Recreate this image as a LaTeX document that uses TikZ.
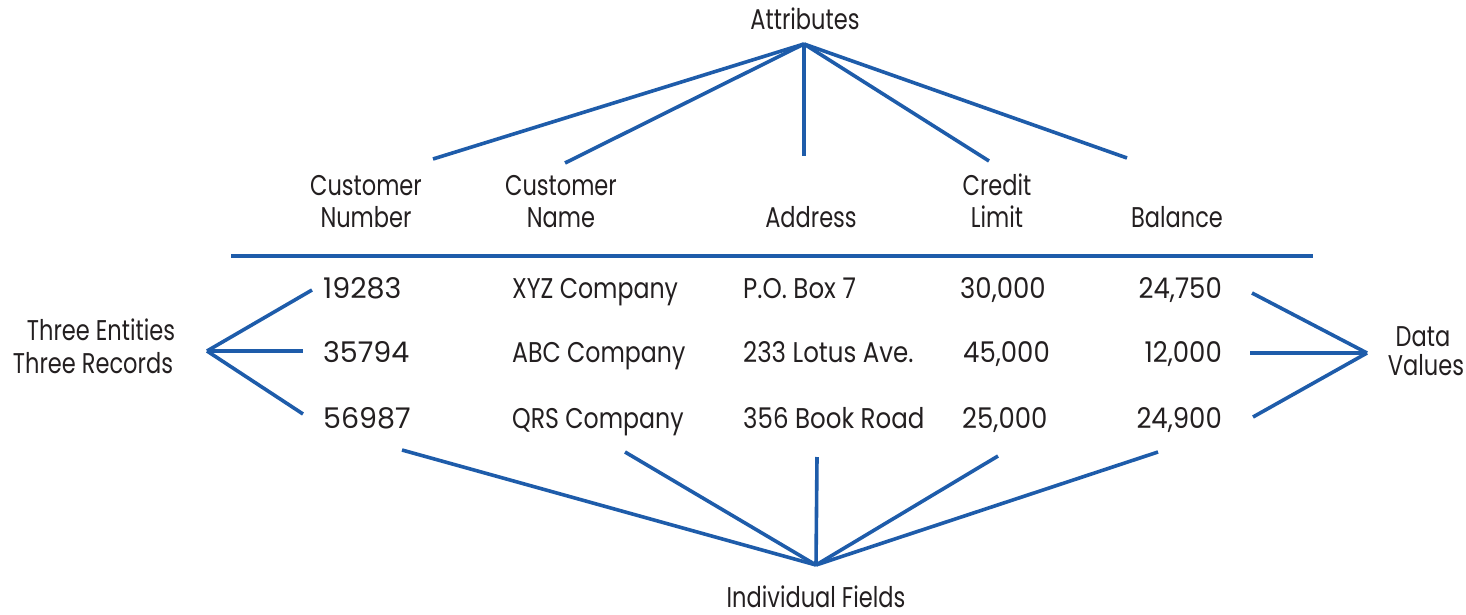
\documentclass[tikz,border=0pt]{standalone}
\usepackage{fontspec}
\setmainfont{Poppins}[FakeStretch=0.79]
\newfontfamily\fcomp{Poppins}[FakeStretch=0.83]
\newfontfamily\faddr{Poppins}[FakeStretch=0.86]
\newfontfamily\fnum{Poppins}[FakeStretch=1.0]
\newfontfamily\fval{Poppins}[FakeStretch=0.91]
\definecolor{lineblue}{RGB}{30,92,170}
\definecolor{txtgray}{RGB}{35,31,32}
\tikzset{
  lbl/.style={font=\fontsize{28.5}{33}\selectfont, text=txtgray, inner sep=0pt},
  cell/.style={lbl, anchor=base west},
  conn/.style={draw=lineblue, line width=3.6pt},
}
\begin{document}
\begin{tikzpicture}[x=1pt,y=-1pt]
\useasboundingbox[fill=white] (0,0) rectangle (1466,615);

% Title
\node[lbl, anchor=base] (attr) at (805,30) {Attributes};
\coordinate (ahub) at (804,44);
\coordinate (a1) at (433,159);
\coordinate (a2) at (565,163);
\coordinate (a3) at (804,156);
\coordinate (a4) at (989,161);
\coordinate (a5) at (1127,158);
\foreach \e in {a1,a2,a3,a4,a5} \draw[conn] (ahub) -- (\e);

% Header
\node[lbl, anchor=base] (cn1) at (366,195) {Customer};
\node[lbl, anchor=base] (cn2) at (366,227) {Number};
\node[lbl, anchor=base] (nm1) at (561,195) {Customer};
\node[lbl, anchor=base] (nm2) at (561,227) {Name};
\node[lbl, anchor=base] (addr) at (811,227) {Address};
\node[lbl, anchor=base] (cr1) at (997,195) {Credit};
\node[lbl, anchor=base] (cr2) at (997,227) {Limit};
\node[lbl, anchor=base] (bal) at (1177,227) {Balance};

\coordinate (ruleL) at (231,256);
\coordinate (ruleR) at (1313,256);
\draw[conn] (ruleL) -- (ruleR);

% Rows
\node[cell] (r1c1) at (323,298) {\fnum 19283};
\node[cell] (r2c1) at (323,362) {\fnum 35794};
\node[cell] (r3c1) at (323,428) {\fnum 56987};
\node[cell] (r1c2) at (512,298) {\fcomp XYZ Company};
\node[cell] (r2c2) at (512,362) {\fcomp ABC Company};
\node[cell] (r3c2) at (512,428) {\fcomp QRS Company};
\node[cell] (r1c3) at (743,298) {\faddr P.O. Box 7};
\node[cell] (r2c3) at (743,362) {\faddr 233 Lotus Ave.};
\node[cell] (r3c3) at (743,428) {\faddr 356 Book Road};
\node[cell] (r1c4) at (960,298) {\fval 30,000};
\node[cell] (r2c4) at (963,362) {\fval 45,000};
\node[cell] (r3c4) at (962,428) {\fval 25,000};
\node[lbl, anchor=base east] (r1c5) at (1222,298) {\fval 24,750};
\node[lbl, anchor=base east] (r2c5) at (1222,362) {\fval 12,000};
\node[lbl, anchor=base east] (r3c5) at (1222,428) {\fval 24,900};

% Left
\node[lbl, anchor=base] (ent) at (101,340) {Three Entities};
\node[lbl, anchor=base] (rec) at (93,373) {Three Records};
\coordinate (lhub) at (207,351);
\coordinate (l1) at (312,290);
\coordinate (l2) at (303,351);
\coordinate (l3) at (303,414);
\foreach \e in {l1,l2,l3} \draw[conn] (lhub) -- (\e);

% Right
\node[lbl, anchor=base] (data) at (1423,346) {Data};
\node[lbl, anchor=base] (vals) at (1426,375) {Values};
\coordinate (rhub) at (1367,353);
\coordinate (q1) at (1252,293);
\coordinate (q2) at (1250,353);
\coordinate (q3) at (1253,417);
\foreach \e in {q1,q2,q3} \draw[conn] (rhub) -- (\e);

% Bottom
\node[lbl, anchor=base] (ind) at (816,607) {Individual Fields};
\coordinate (bhub) at (816,565);
\coordinate (b1) at (402,450);
\coordinate (b2) at (625,452);
\coordinate (b3) at (817,457);
\coordinate (b4) at (998,456);
\coordinate (b5) at (1158,452);
\foreach \e in {b1,b2,b3,b4,b5} \draw[conn] (bhub) -- (\e);
\end{tikzpicture}
\end{document}
